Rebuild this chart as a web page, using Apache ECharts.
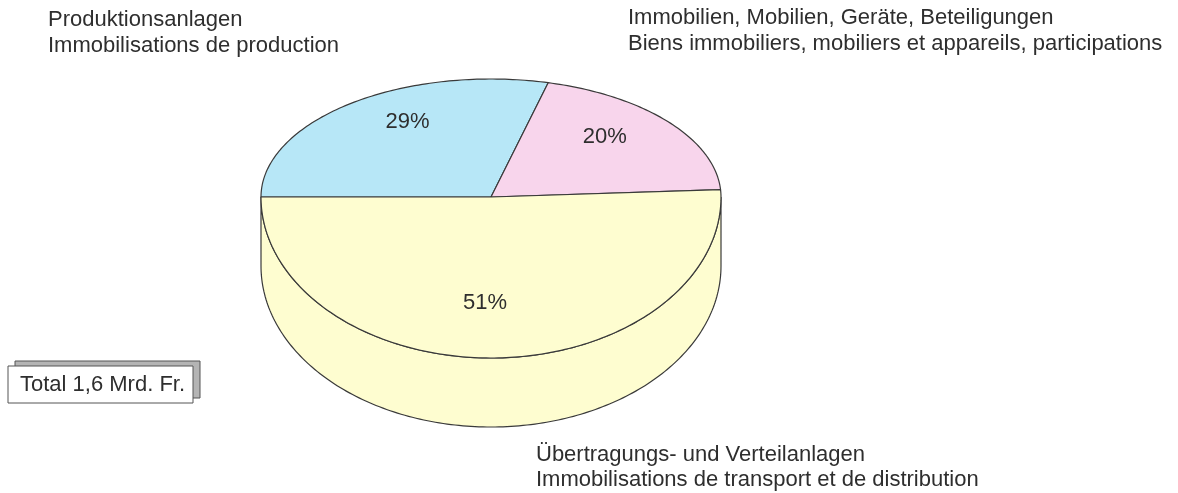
<!DOCTYPE html>
<html>
<head>
<meta charset="utf-8">
<script src="https://cdn.jsdelivr.net/npm/echarts@6/dist/echarts.min.js"></script>
<style>
html,body{margin:0;padding:0;background:#fff;}
#chart{width:1178px;height:493px;}
</style>
</head>
<body>
<div id="chart"></div>
<script>
// ---- data ----
const categoriesDe = ['Produktionsanlagen', 'Immobilien, Mobilien, Geräte, Beteiligungen', 'Übertragungs- und Verteilanlagen'];
const categoriesFr = ['Immobilisations de production', 'Biens immobiliers, mobiliers et appareils, participations', 'Immobilisations de transport et de distribution'];
const shares = [29, 20, 51];
const totalLabel = 'Total 1,6 Mrd. Fr.';

// ---- style / geometry constants ----
const colors = ['#b7e7f7', '#f8d5ec', '#fefdd0'];
const lineColor = '#3a3a3a';
const textColor = '#2e2e2e';
const FONT = '"Liberation Sans", Arial, Helvetica, sans-serif';
const UP = 1;          // back half vertical radius (units)
const LOW = 161 / 118; // front half vertical radius
const DEPTH = 69 / 118; // cylinder depth
const START = 180;     // start angle, clockwise

const sum = shares.reduce((a, b) => a + b, 0);
let acc = START;
const sliceData = shares.map((v, i) => {
  const a0 = acc;
  const a1 = acc - v / sum * 360;
  acc = a1;
  return [a0, a1, v, i];
});

function renderSlice(params, api) {
  const a0 = api.value(0), a1 = api.value(1), v = api.value(2), i = api.value(3);
  function ell(deg, dy) {
    const r = deg * Math.PI / 180;
    const s = Math.sin(r);
    return api.coord([Math.cos(r), s * (s >= 0 ? UP : LOW) - (dy || 0)]);
  }
  function arc(from, to, dy) {
    const pts = [];
    const n = Math.max(8, Math.ceil(Math.abs(to - from) / 1));
    for (let k = 0; k <= n; k++) pts.push(ell(from + (to - from) * k / n, dy));
    return pts;
  }
  const children = [];
  // side of cylinder (front half only)
  const hi = Math.min(a0, 0), lo = Math.max(a1, -180);
  if (hi > lo) {
    const pts = arc(hi, lo, 0).concat(arc(lo, hi, DEPTH));
    children.push({
      type: 'polygon', shape: { points: pts },
      style: { fill: colors[i], stroke: lineColor, lineWidth: 1.2 }
    });
  }
  // top face
  const hub = api.coord([0, 0]);
  const topPts = [hub].concat(arc(a0, a1, 0));
  children.push({
    type: 'polygon', shape: { points: topPts },
    style: { fill: colors[i], stroke: lineColor, lineWidth: 1.2, lineJoin: 'round' }
  });
  // percentage label
  const mid = (a0 + a1) / 2 * Math.PI / 180;
  const sm = Math.sin(mid);
  const lp = api.coord([Math.cos(mid) * 0.62 - (sm < 0 ? 0.045 : -0.017), sm * (sm >= 0 ? UP * 0.8 : LOW * 0.66)]);
  children.push({
    type: 'text',
    style: {
      x: lp[0], y: lp[1], text: v + '%',
      fill: textColor, font: '22px ' + FONT,
      align: 'center', verticalAlign: 'middle'
    }
  });
  return { type: 'group', children: children };
}

const chart = echarts.init(document.getElementById('chart'));
const labelStyle = { fill: textColor, font: '22px ' + FONT, lineHeight: 26 };
chart.setOption({
  animation: false,
  grid: { left: 261, right: 457, top: 79, bottom: 66 },
  xAxis: { type: 'value', min: -1, max: 1, show: false },
  yAxis: { type: 'value', min: -(LOW + DEPTH), max: UP, show: false },
  series: [{
    type: 'custom',
    renderItem: renderSlice,
    data: sliceData,
    silent: true
  }],
  graphic: [
    { type: 'text', left: 48, top: 7,
      style: Object.assign({ text: categoriesDe[0] + '\n' + categoriesFr[0] }, labelStyle) },
    { type: 'text', left: 628, top: 5,
      style: Object.assign({ text: categoriesDe[1] + '\n' + categoriesFr[1] }, labelStyle) },
    { type: 'text', left: 536, top: 442,
      style: Object.assign({ text: categoriesDe[2] + '\n' + categoriesFr[2] }, labelStyle, { lineHeight: 25 }) },
    { type: 'rect', shape: { x: 15, y: 361, width: 185, height: 37 },
      style: { fill: '#b4b4b4', stroke: '#555', lineWidth: 1 } },
    { type: 'rect', shape: { x: 8, y: 366, width: 185, height: 37 },
      style: { fill: '#fff', stroke: '#555', lineWidth: 1 } },
    { type: 'text', x: 20, y: 385,
      style: { text: totalLabel, fill: textColor, font: '22px ' + FONT, verticalAlign: 'middle' } }
  ]
});
</script>
</body>
</html>
